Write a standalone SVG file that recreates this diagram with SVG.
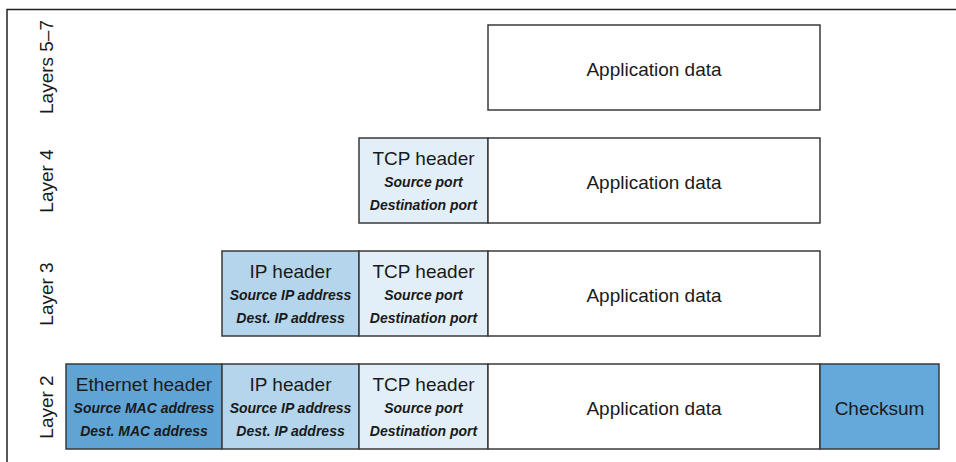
<svg xmlns="http://www.w3.org/2000/svg" width="956" height="462" viewBox="0 0 956 462">
<style>
.box{stroke:#3a3a3a;stroke-width:1.5}
.app{fill:#fff}
.tcp{fill:#e2eff8}
.ip{fill:#b4d5eb}
.eth{fill:#5fa4d5}
.chk{fill:#64a9da}
text{font-family:"Liberation Sans Narrow","Liberation Sans",Arial,sans-serif;fill:#1a1a1a;text-anchor:middle}
.t{font-size:19px}
.s{font-size:14px;font-weight:bold;font-style:italic}
.lab{font-size:19px}
</style>
<rect width="956" height="462" fill="#fff"/>
<path d="M7 462V9.5H956" fill="none" stroke="#222" stroke-width="1.5"/>
<g id="labels">
<text class="lab" transform="translate(53,67) rotate(-90)">Layers 5–7</text>
<text class="lab" transform="translate(53,181) rotate(-90)">Layer 4</text>
<text class="lab" transform="translate(53,294) rotate(-90)">Layer 3</text>
<text class="lab" transform="translate(53,407) rotate(-90)">Layer 2</text>
</g>
<g id="l7-app"><rect class="box app" x="488" y="25" width="332" height="85"/><text class="t" x="654" y="76">Application data</text></g>
<g id="l4-tcp"><rect class="box tcp" x="359" y="138" width="129" height="85"/><text class="t" x="423.5" y="165">TCP header</text><text class="s" x="423.5" y="187">Source port</text><text class="s" x="423.5" y="210">Destination port</text></g>
<g id="l4-app"><rect class="box app" x="488" y="138" width="332" height="85"/><text class="t" x="654" y="189">Application data</text></g>
<g id="l3-ip"><rect class="box ip" x="222" y="251" width="137" height="85"/><text class="t" x="290.5" y="278">IP header</text><text class="s" x="290.5" y="300">Source IP address</text><text class="s" x="290.5" y="323">Dest. IP address</text></g>
<g id="l3-tcp"><rect class="box tcp" x="359" y="251" width="129" height="85"/><text class="t" x="423.5" y="278">TCP header</text><text class="s" x="423.5" y="300">Source port</text><text class="s" x="423.5" y="323">Destination port</text></g>
<g id="l3-app"><rect class="box app" x="488" y="251" width="332" height="85"/><text class="t" x="654" y="302">Application data</text></g>
<g id="l2-eth"><rect class="box eth" x="66" y="364" width="156" height="85"/><text class="t" x="144" y="391">Ethernet header</text><text class="s" x="144" y="413">Source MAC address</text><text class="s" x="144" y="436">Dest. MAC address</text></g>
<g id="l2-ip"><rect class="box ip" x="222" y="364" width="137" height="85"/><text class="t" x="290.5" y="391">IP header</text><text class="s" x="290.5" y="413">Source IP address</text><text class="s" x="290.5" y="436">Dest. IP address</text></g>
<g id="l2-tcp"><rect class="box tcp" x="359" y="364" width="129" height="85"/><text class="t" x="423.5" y="391">TCP header</text><text class="s" x="423.5" y="413">Source port</text><text class="s" x="423.5" y="436">Destination port</text></g>
<g id="l2-app"><rect class="box app" x="488" y="364" width="332" height="85"/><text class="t" x="654" y="415">Application data</text></g>
<g id="l2-chk"><rect class="box chk" x="820" y="364" width="119" height="85"/><text class="t" x="879.5" y="415">Checksum</text></g>
<g id="connectors"/>
</svg>
